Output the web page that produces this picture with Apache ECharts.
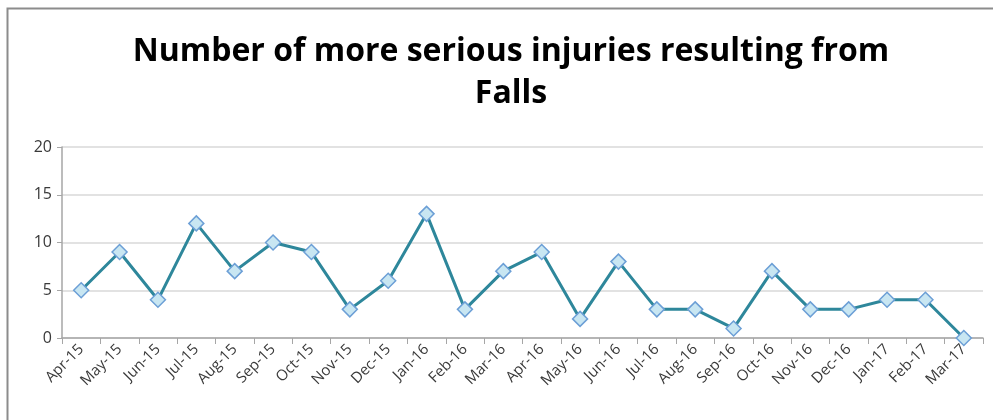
<!DOCTYPE html>
<html>
<head>
<meta charset="utf-8">
<script src="https://cdn.jsdelivr.net/npm/echarts@6/dist/echarts.min.js"></script>
<style>
  html, body { margin: 0; padding: 0; background: #fff; }
  #chart { width: 993px; height: 420px; }
</style>
</head>
<body>
<div id="chart"></div>
<script>
// Monthly counts of more serious fall injuries, Apr 2015 – Mar 2017
const months = ['Apr-15','May-15','Jun-15','Jul-15','Aug-15','Sep-15','Oct-15','Nov-15','Dec-15',
  'Jan-16','Feb-16','Mar-16','Apr-16','May-16','Jun-16','Jul-16','Aug-16','Sep-16','Oct-16',
  'Nov-16','Dec-16','Jan-17','Feb-17','Mar-17'];
const injuries = [5, 9, 4, 12, 7, 10, 9, 3, 6, 13, 3, 7, 9, 2, 8, 3, 3, 1, 7, 3, 3, 4, 4, 0];
const yTicks = { min: 0, max: 20, step: 5 };

const chart = echarts.init(document.getElementById('chart'));
chart.setOption({
  animation: false,
  backgroundColor: '#ffffff',
  graphic: [{
    // frame: left and top edges of the chart area
    type: 'polyline',
    shape: { points: [[7.5, 420], [7.5, 8.5], [993, 8.5]] },
    style: { fill: 'none', stroke: '#8c8c8c', lineWidth: 2 },
    silent: true
  }],
  title: {
    text: 'Number of more serious injuries resulting from\nFalls',
    left: 506,
    textAlign: 'center',
    top: 26,
    textStyle: {
      fontFamily: 'Open Sans',
      fontWeight: 'bold',
      fontSize: 32,
      lineHeight: 42,
      color: '#000'
    }
  },
  grid: { left: 62, right: 10, top: 147, bottom: 82 },
  xAxis: {
    type: 'category',
    data: months,
    boundaryGap: true,
    axisLine: { lineStyle: { color: '#a6a6a6', width: 1.5 } },
    axisTick: { show: true, length: 6, lineStyle: { color: '#a6a6a6' } },
    axisLabel: {
      rotate: 45,
      interval: 0,
      margin: 9,
      fontFamily: 'Open Sans',
      fontSize: 15,
      color: '#3a3a3a'
    }
  },
  yAxis: {
    type: 'value',
    min: yTicks.min,
    max: yTicks.max,
    interval: yTicks.step,
    axisLine: { show: true, lineStyle: { color: '#a6a6a6', width: 1.5 } },
    axisTick: { show: true, length: 5, lineStyle: { color: '#a6a6a6' } },
    splitLine: { lineStyle: { color: '#d9d9d9', width: 1.5 } },
    axisLabel: {
      margin: 10,
      fontFamily: 'Open Sans',
      fontSize: 16,
      color: '#3a3a3a'
    }
  },
  series: [{
    type: 'line',
    data: injuries,
    symbol: 'diamond',
    symbolSize: 15,
    lineStyle: { color: '#2e879b', width: 3 },
    itemStyle: { color: '#c8e6f2', borderColor: '#6c9fd6', borderWidth: 1.5 }
  }]
});
</script>
</body>
</html>
